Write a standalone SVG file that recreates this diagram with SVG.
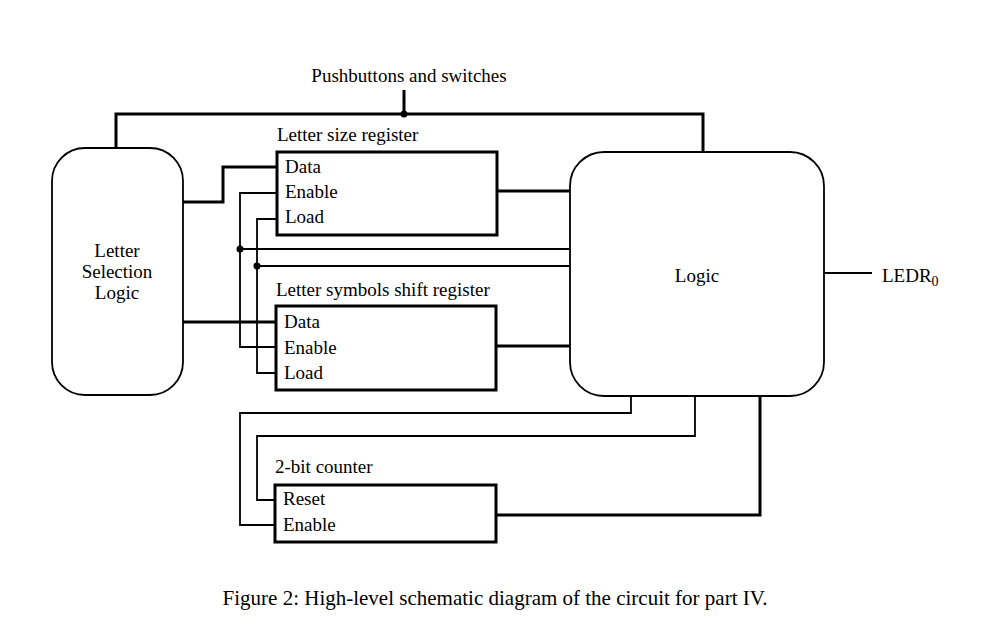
<svg xmlns="http://www.w3.org/2000/svg" width="984" height="632" viewBox="0 0 984 632">
<style>
text{font-family:"Liberation Serif","Times New Roman",serif;font-size:19px;fill:#000}
.thick{fill:none;stroke:#000;stroke-width:3;stroke-linejoin:miter}
.thin{fill:none;stroke:#000;stroke-width:1.8}
.reg{fill:#fff;stroke:#000;stroke-width:3}
.blk{fill:#fff;stroke:#000;stroke-width:1.8}
.mid{text-anchor:middle}
.cap{font-size:21px}
</style>
<rect width="984" height="632" fill="#fff"/>
<g id="connectors">
  <path class="thick" d="M404 90V114M116 148V114H703V152"/>
  <circle cx="404" cy="114" r="3.5"/>
  <path class="thick" d="M183 202H223V167H277"/>
  <path class="thick" d="M183 322H276"/>
  <path class="thick" d="M497 191H570"/>
  <path class="thick" d="M496 346H570"/>
  <path class="thin" d="M277 193H240V347H276"/>
  <path class="thin" d="M277 219H257V373H276"/>
  <path class="thin" d="M240 249H571"/>
  <path class="thin" d="M257 266H571"/>
  <circle cx="240" cy="249" r="3.5"/>
  <circle cx="257" cy="266" r="3.5"/>
  <path class="thin" d="M824 273H872"/>
  <path class="thin" d="M631 396V413H240V525H275"/>
  <path class="thin" d="M695 396V436H257V500H275"/>
  <path class="thick" d="M760 396V515H496"/>
</g>
<g id="selection">
  <rect class="blk" x="52" y="148" width="131" height="247" rx="33" ry="33"/>
  <text class="mid" x="117" y="257">Letter</text>
  <text class="mid" x="117" y="278">Selection</text>
  <text class="mid" x="117" y="299">Logic</text>
</g>
<g id="sizereg">
  <text x="277" y="141">Letter size register</text>
  <rect class="reg" x="277" y="152" width="220" height="83"/>
  <text x="285" y="173">Data</text>
  <text x="285" y="198">Enable</text>
  <text x="285" y="223">Load</text>
</g>
<g id="shiftreg">
  <text x="276" y="296">Letter symbols shift register</text>
  <rect class="reg" x="276" y="306" width="220" height="84"/>
  <text x="284" y="328">Data</text>
  <text x="284" y="354">Enable</text>
  <text x="284" y="379">Load</text>
</g>
<g id="counter">
  <text x="275" y="473">2-bit counter</text>
  <rect class="reg" x="275" y="485" width="221" height="57"/>
  <text x="283" y="505">Reset</text>
  <text x="283" y="531">Enable</text>
</g>
<g id="logic">
  <rect class="blk" x="570" y="152" width="254" height="244" rx="34" ry="34"/>
  <text class="mid" x="697" y="282">Logic</text>
</g>
<g id="ledr">
  <text x="882" y="282">LEDR<tspan font-size="14" dy="4">0</tspan></text>
</g>
<g id="inputs">
  <text class="mid" x="409" y="82">Pushbuttons and switches</text>
</g>
<text class="mid cap" x="495" y="605">Figure 2: High-level schematic diagram of the circuit for part IV.</text>
</svg>
